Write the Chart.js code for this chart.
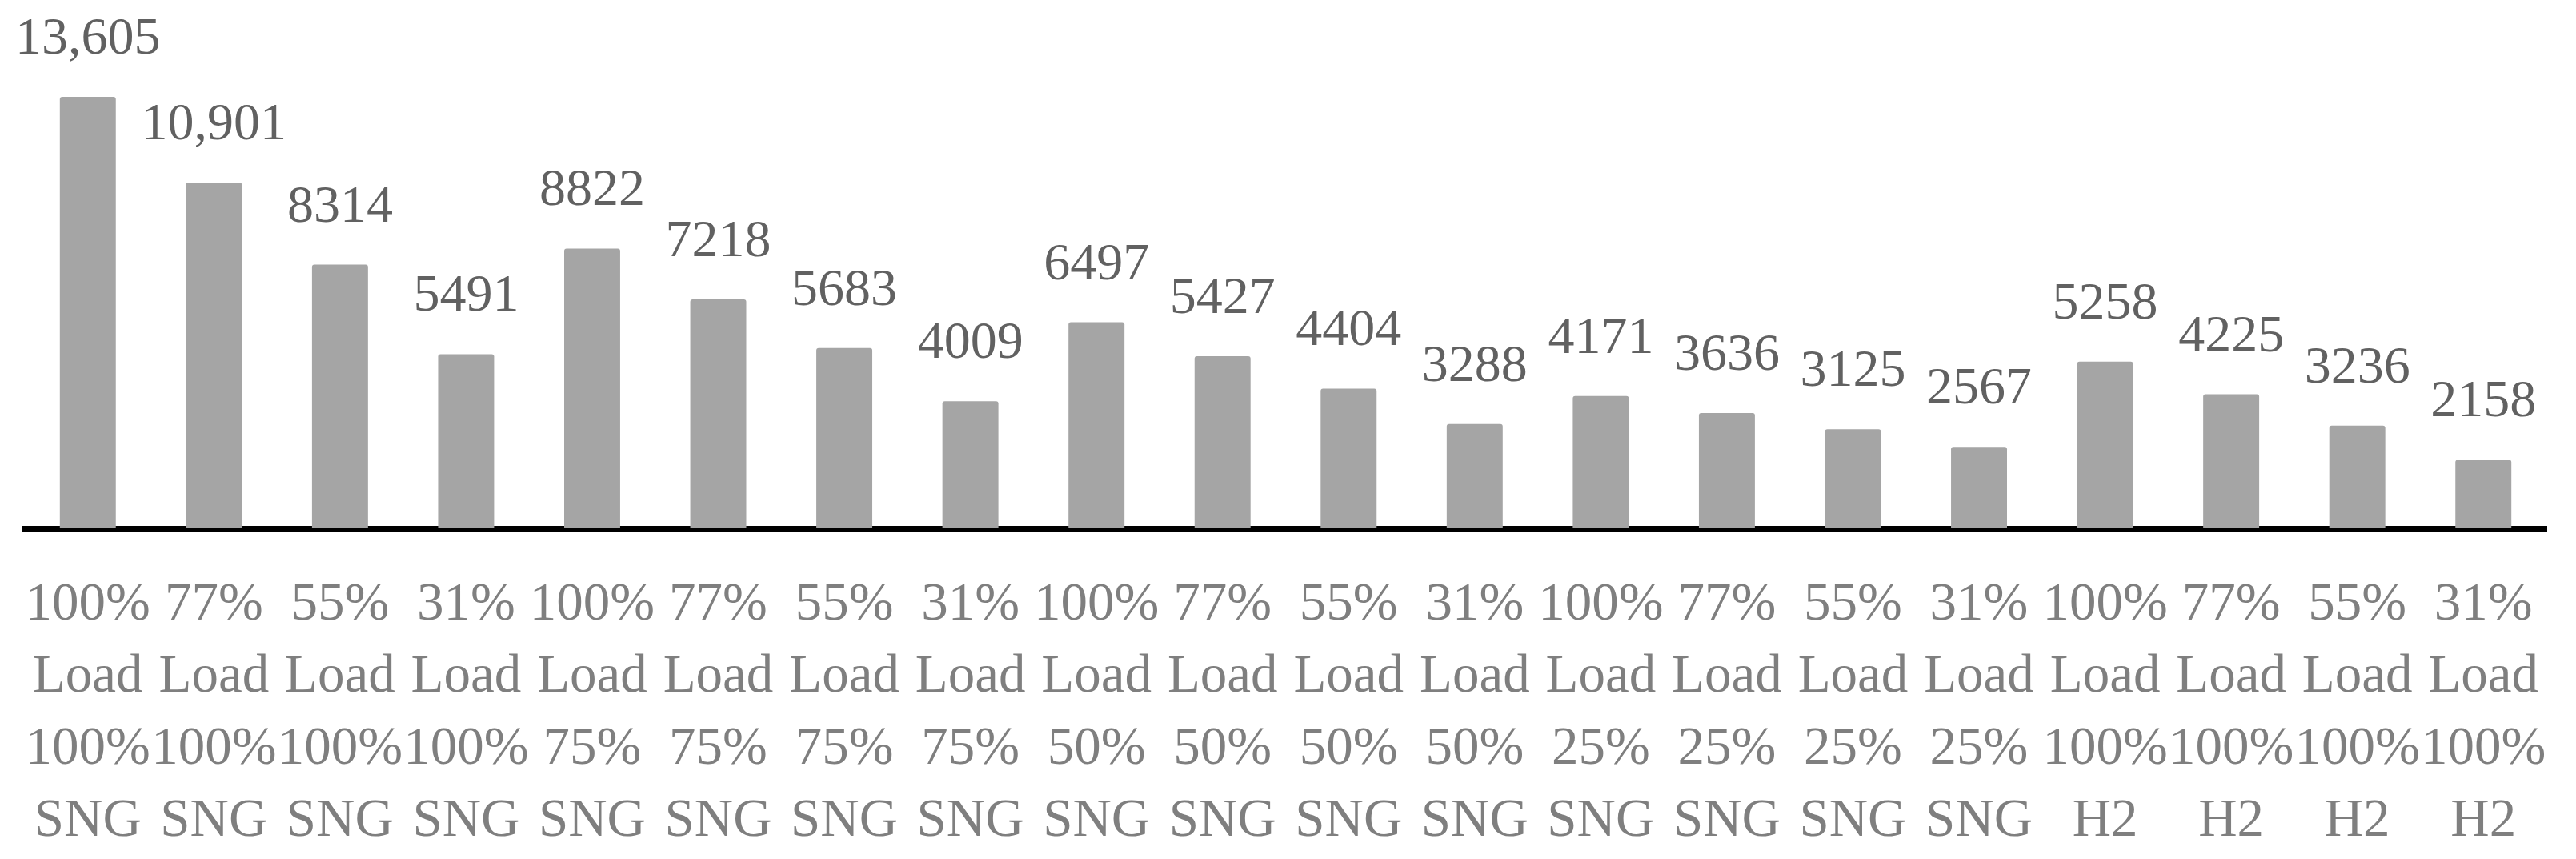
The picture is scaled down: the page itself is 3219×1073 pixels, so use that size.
<!DOCTYPE html>
<html>
<head>
<meta charset="utf-8">
<script src="https://cdn.jsdelivr.net/npm/chart.js@4.4.1/dist/chart.umd.min.js"></script>
<style>
  html, body { margin: 0; padding: 0; background: #fff; overflow: hidden; }
  #wrap { width: 3219px; height: 1073px; position: relative; }
</style>
</head>
<body>
<div id="wrap"><canvas id="chart"></canvas></div>
<script>
const loads = ['100%', '77%', '55%', '31%'];
const gasShares = ['100%', '100%', '100%', '100%', '75%', '75%', '75%', '75%', '50%', '50%', '50%', '50%', '25%', '25%', '25%', '25%', '100%', '100%', '100%', '100%'];
const gasTypes = ['SNG', 'SNG', 'SNG', 'SNG', 'SNG', 'SNG', 'SNG', 'SNG', 'SNG', 'SNG', 'SNG', 'SNG', 'SNG', 'SNG', 'SNG', 'SNG', 'H2', 'H2', 'H2', 'H2'];
const values = [13605, 10901, 8314, 5491, 8822, 7218, 5683, 4009, 6497, 5427, 4404, 3288, 4171, 3636, 3125, 2567, 5258, 4225, 3236, 2158];

const labels = values.map((v, i) => [loads[i % 4], 'Load', gasShares[i], gasTypes[i]]);

const serif = '"Palatino Linotype", "Book Antiqua", Palatino, "Liberation Serif", serif';
const tickPad = 51;
const lineH = 90;

function fmt(v){
    return v >= 10000 ? v.toLocaleString('en-US') : String(v);
}

// value labels above each bar
const valueLabels = {
    id: 'valueLabels',
    afterDatasetsDraw(chart){
        const ctx = chart.ctx;
        const meta = chart.getDatasetMeta(0);
        ctx.save();
        ctx.font = '66px ' + serif;
        ctx.fillStyle = '#616161';
        ctx.textAlign = 'center';
        ctx.textBaseline = 'alphabetic';
        meta.data.forEach((bar, i) => {
            ctx.fillText(fmt(values[i]), bar.x, bar.y - 54);
        });
        ctx.restore();
    }
};

new Chart(document.getElementById('chart'), {
    type: 'bar',
    data: {
        labels: labels,
        datasets: [{
            data: values,
            backgroundColor: '#a5a5a5',
            borderRadius: 3,
            barPercentage: 0.444,
            categoryPercentage: 1
        }]
    },
    options: {
        responsive: true,
        maintainAspectRatio: false,
        devicePixelRatio: 1,
        animation: false,
        layout: { padding: { top: 26, left: 31, right: 37, bottom: 2 } },
        plugins: { legend: { display: false }, tooltip: { enabled: false } },
        scales: {
            x: {
                grid: { display: false, drawTicks: false },
                border: { display: true, color: '#000', width: 7 },
                ticks: {
                    autoSkip: false,
                    maxRotation: 0,
                    minRotation: 0,
                    padding: tickPad,
                    color: '#7f7f7f',
                    font: { family: serif, size: 67, lineHeight: lineH + 'px' }
                },
                afterFit(scale){
                    scale.height = tickPad + 4 * lineH;
                    scale.paddingLeft = 0;
                    scale.paddingRight = 0;
                }
            },
            y: {
                display: false,
                min: 0,
                max: 16000
            }
        }
    },
    plugins: [valueLabels]
});
</script>
</body>
</html>
